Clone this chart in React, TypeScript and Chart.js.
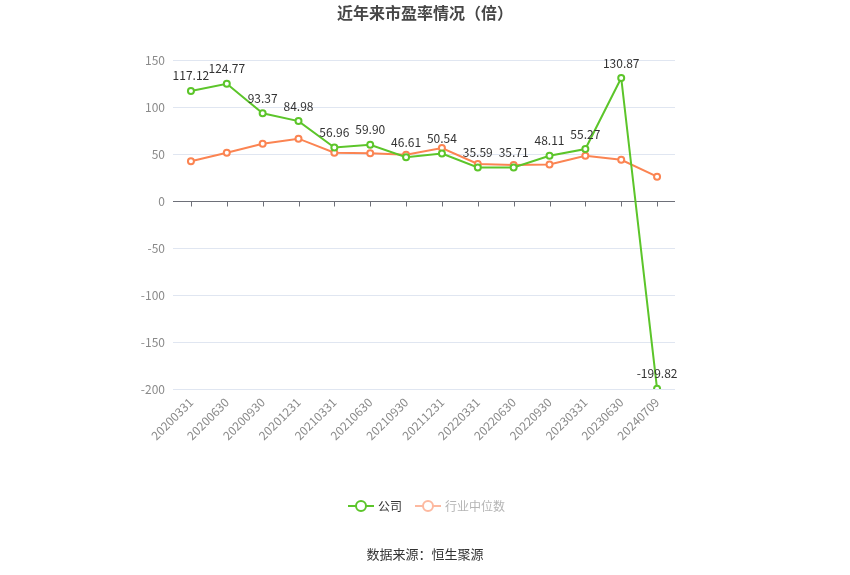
import React, { useEffect, useRef } from "react";
import { Chart, registerables } from "chart.js";

Chart.register(...registerables);

const titleText = "近年来市盈率情况（倍）";
const sourceText = "数据来源：恒生聚源";
const categories = [
  "20200331", "20200630", "20200930", "20201231", "20210331", "20210630", "20210930",
  "20211231", "20220331", "20220630", "20220930", "20230331", "20230630", "20240709",
];
const companyName = "公司";
const industryName = "行业中位数";
const companyPE = [117.12, 124.77, 93.37, 84.98, 56.96, 59.9, 46.61, 50.54, 35.59, 35.71, 48.11, 55.27, 130.87, -199.82];
const industryPE = [42.2, 51.4, 61.0, 66.3, 51.4, 50.7, 49.3, 56.4, 39.4, 38.3, 38.9, 48.2, 43.9, 25.9];
const yMin = -200;
const yMax = 150;
const yStep = 50;

const GREEN = "#5cc52a";
const ORANGE = "#fb8452";
const FONT = "'Noto Sans CJK SC', 'Noto Sans', sans-serif";

const decorPlugin = {
  id: "decor",
  beforeDatasetsDraw(chart: any) {
    const { ctx, chartArea, scales } = chart;
    const x = scales.x;
    const y0 = Math.round(scales.y.getPixelForValue(0)) + 0.5;
    ctx.save();
    ctx.strokeStyle = "#6e7079";
    ctx.lineWidth = 1;
    ctx.beginPath();
    ctx.moveTo(chartArea.left, y0);
    ctx.lineTo(chartArea.right, y0);
    for (let i = 0; i < categories.length; i++) {
      const px = Math.round(x.getPixelForValue(i)) + 0.5;
      ctx.moveTo(px, y0);
      ctx.lineTo(px, y0 + 5);
    }
    ctx.stroke();
    ctx.restore();
  },
  afterDatasetsDraw(chart: any) {
    const { ctx } = chart;
    const meta = chart.getDatasetMeta(0);
    ctx.save();
    ctx.font = `12px ${FONT}`;
    ctx.fillStyle = "#333";
    ctx.textAlign = "center";
    ctx.textBaseline = "bottom";
    meta.data.forEach((pt: any, i: number) => {
      ctx.fillText(companyPE[i].toFixed(2), pt.x, pt.y - 9);
    });
    ctx.restore();
  },
  afterDraw(chart: any) {
    const { ctx, width } = chart;
    ctx.save();
    // title
    ctx.font = `bold 16px ${FONT}`;
    ctx.fillStyle = "#464646";
    ctx.textAlign = "center";
    ctx.textBaseline = "middle";
    ctx.fillText(titleText, width / 2, 13);
    // legend
    const items = [
      { label: companyName, color: GREEN, text: "#333", x: 361 },
      { label: industryName, color: "#fdb9a0", text: "#b5b5b5", x: 428 },
    ];
    ctx.font = `12px ${FONT}`;
    ctx.textAlign = "left";
    const ly = 506;
    items.forEach((it) => {
      ctx.strokeStyle = it.color;
      ctx.lineWidth = 2;
      ctx.beginPath();
      ctx.moveTo(it.x - 13, ly);
      ctx.lineTo(it.x + 13, ly);
      ctx.stroke();
      ctx.beginPath();
      ctx.arc(it.x, ly, 5, 0, Math.PI * 2);
      ctx.fillStyle = "#fff";
      ctx.fill();
      ctx.stroke();
      ctx.fillStyle = it.text;
      ctx.fillText(it.label, it.x + 17, ly);
    });
    // source
    ctx.font = `13px ${FONT}`;
    ctx.fillStyle = "#333";
    ctx.textAlign = "center";
    ctx.fillText(sourceText, width / 2, 554);
    ctx.restore();
  },
};

export default function App() {
  const ref = useRef<HTMLCanvasElement>(null);
  useEffect(() => {
    document.body.style.margin = "0";
    const chart = new Chart(ref.current as HTMLCanvasElement, {
      type: "line",
      data: {
        labels: categories,
        datasets: [
          {
            label: companyName,
            data: companyPE,
            borderColor: GREEN,
            backgroundColor: "#fff",
            borderWidth: 2,
            pointRadius: 3,
            pointBorderWidth: 2,
            pointBackgroundColor: "#fff",
            pointBorderColor: GREEN,
            tension: 0,
            order: 0,
          },
          {
            label: industryName,
            data: industryPE,
            borderColor: ORANGE,
            backgroundColor: "#fff",
            borderWidth: 2,
            pointRadius: 3,
            pointBorderWidth: 2,
            pointBackgroundColor: "#fff",
            pointBorderColor: ORANGE,
            tension: 0,
            order: 1,
          },
        ],
      },
      options: {
        animation: false,
        responsive: false,
        devicePixelRatio: 1,
        layout: { padding: { left: 133, right: 175, top: 60, bottom: 116 } },
        plugins: {
          legend: { display: false },
          title: { display: false },
          tooltip: { enabled: false },
        },
        scales: {
          x: {
            offset: true,
            grid: { display: false, drawTicks: false },
            border: { display: false },
            ticks: {
              maxRotation: 45,
              minRotation: 45,
              autoSkip: false,
              padding: 6,
              color: "#8a8a8a",
              font: { size: 12, family: FONT },
            },
            afterFit(scale: any) {
              scale.height = 70;
            },
          },
          y: {
            min: yMin,
            max: yMax,
            grid: {
              drawTicks: false,
              color: (c: any) => (c.tick && c.tick.value === 0 ? "rgba(0,0,0,0)" : "#e0e6f1"),
            },
            border: { display: false },
            ticks: {
              stepSize: yStep,
              padding: 8,
              color: "#8a8a8a",
              font: { size: 12, family: FONT },
            },
            afterFit(scale: any) {
              scale.width = 40;
            },
          },
        },
      },
      plugins: [decorPlugin],
    });
    return () => chart.destroy();
  }, []);
  return (
    <div style={{ width: 850, height: 575 }}>
      <canvas ref={ref} width={850} height={575} style={{ width: 850, height: 575, display: "block" }} />
    </div>
  );
}
